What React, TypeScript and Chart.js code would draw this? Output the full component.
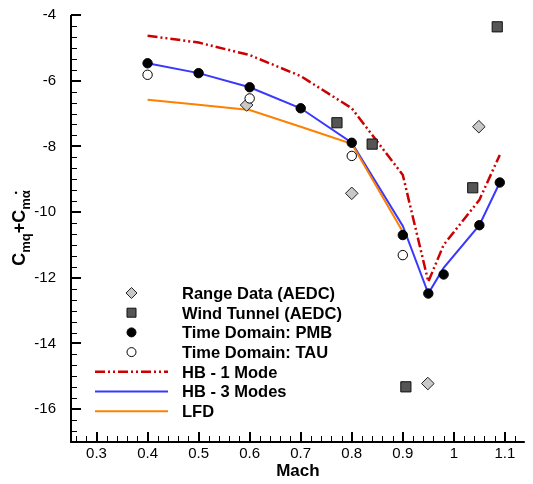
import React, { useEffect, useRef } from 'react';
import { Chart, registerables } from 'chart.js';

Chart.register(...registerables);

// ---- data ----
const rangeMach = [0.594, 0.8, 0.949, 1.049];
const rangeCm = [-6.74, -9.43, -15.22, -7.4];

const windMach = [0.771, 0.84, 0.906, 1.037, 1.085];
const windCm = [-7.28, -7.93, -15.32, -9.26, -4.36];

const pmbMach = [0.4, 0.5, 0.6, 0.7, 0.8, 0.9, 0.95, 0.98, 1.05, 1.09];
const pmbCm = [-5.47, -5.77, -6.2, -6.84, -7.89, -10.7, -12.48, -11.9, -10.4, -9.1];

const tauMach = [0.4, 0.6, 0.8, 0.9];
const tauCm = [-5.82, -6.54, -8.29, -11.31];

const hbMach = [0.4, 0.5, 0.6, 0.7, 0.8, 0.9, 0.95, 0.98, 1.05, 1.09];
const hb1Cm = [-4.63, -4.84, -5.22, -5.86, -6.84, -8.87, -12.12, -11.0, -9.63, -8.26];
const hb3Cm = [-5.47, -5.77, -6.2, -6.84, -7.89, -10.42, -12.48, -11.7, -10.4, -9.1];

const lfdMach = [0.4, 0.5, 0.6, 0.7, 0.8, 0.9];
const lfdCm = [-6.58, -6.73, -6.89, -7.4, -7.92, -10.6];

const xTickValues = [0.3, 0.4, 0.5, 0.6, 0.7, 0.8, 0.9, 1.0, 1.1];
const yTickValues = [-16, -14, -12, -10, -8, -6, -4];

const legendLabels = [
  'Range Data (AEDC)',
  'Wind Tunnel (AEDC)',
  'Time Domain: PMB',
  'Time Domain: TAU',
  'HB - 1 Mode',
  'HB - 3 Modes',
  'LFD',
];

const FONT = "'Liberation Sans', Arial, sans-serif";
const RED = '#cc0000';
const BLUE = '#3838ff';
const ORANGE = '#ff8000';
const HB1_DASH = [10, 3, 2, 3, 2, 3];

const pts = (xs: number[], ys: number[]) => xs.map((x, i) => ({ x, y: ys[i] }));

type Marker = 'diamond' | 'square' | 'dot' | 'ring';

function drawMarker(ctx: CanvasRenderingContext2D, kind: Marker, x: number, y: number, s: number) {
  ctx.save();
  ctx.lineWidth = 1;
  ctx.beginPath();
  if (kind === 'diamond') {
    ctx.moveTo(x, y - s); ctx.lineTo(x + s, y); ctx.lineTo(x, y + s); ctx.lineTo(x - s, y); ctx.closePath();
    ctx.fillStyle = '#c8c8c8'; ctx.strokeStyle = '#222';
  } else if (kind === 'square') {
    ctx.rect(x - s, y - s, 2 * s, 2 * s);
    ctx.fillStyle = '#555555'; ctx.strokeStyle = '#111';
  } else if (kind === 'dot') {
    ctx.arc(x, y, s, 0, Math.PI * 2);
    ctx.fillStyle = '#000'; ctx.strokeStyle = '#000';
  } else {
    ctx.arc(x, y, s, 0, Math.PI * 2);
    ctx.fillStyle = '#fff'; ctx.strokeStyle = '#000';
  }
  ctx.fill();
  ctx.stroke();
  ctx.restore();
}

const decorPlugin = {
  id: 'decor',
  afterDraw(chart: any) {
    const { ctx, chartArea: a } = chart;
    const xs = chart.scales.x;
    const ys = chart.scales.y;
    ctx.save();
    ctx.strokeStyle = '#000';
    // axis lines
    ctx.lineWidth = 2;
    ctx.beginPath();
    ctx.moveTo(a.left, a.top);
    ctx.lineTo(a.left, a.bottom);
    ctx.lineTo(a.right, a.bottom);
    ctx.stroke();
    // x ticks (inward)
    for (let k = 0; ; k++) {
      const v = 0.26 + 0.02 * k;
      if (v > xs.max + 1e-9) break;
      const major = xTickValues.some((t) => Math.abs(t - v) < 1e-6);
      const px = Math.round(xs.getPixelForValue(v));
      ctx.lineWidth = major ? 2 : 1;
      ctx.beginPath();
      ctx.moveTo(px + (major ? 0 : 0.5), a.bottom);
      ctx.lineTo(px + (major ? 0 : 0.5), a.bottom - (major ? 10 : 6));
      ctx.stroke();
    }
    // y ticks (inward)
    for (let k = 0; k < 40; k++) {
      const v = ys.min + k / 3;
      if (v > ys.max + 1e-9) break;
      const major = yTickValues.some((t) => Math.abs(t - v) < 1e-6);
      if (k === 0) continue;
      const py = Math.round(ys.getPixelForValue(v));
      ctx.lineWidth = major ? 2 : 1;
      ctx.beginPath();
      ctx.moveTo(a.left, py + (major ? 0 : 0.5));
      ctx.lineTo(a.left + (major ? 10 : 6), py + (major ? 0 : 0.5));
      ctx.stroke();
    }

    // legend
    const kinds: (Marker | 'line')[] = ['diamond', 'square', 'dot', 'ring', 'line', 'line', 'line'];
    const lineStyles = [
      null, null, null, null,
      { c: RED, w: 2.5, d: HB1_DASH },
      { c: BLUE, w: 2, d: [] },
      { c: ORANGE, w: 2, d: [] },
    ];
    const sizes = [5.5, 4.5, 4.5, 4.5];
    ctx.font = `bold 16.5px ${FONT}`;
    ctx.fillStyle = '#000';
    ctx.textBaseline = 'alphabetic';
    ctx.textAlign = 'left';
    legendLabels.forEach((label, i) => {
      const ry = 293 + i * 19.7;
      const k = kinds[i];
      if (k === 'line') {
        const ls = lineStyles[i]!;
        ctx.save();
        ctx.strokeStyle = ls.c;
        ctx.lineWidth = ls.w;
        ctx.setLineDash(ls.d);
        ctx.beginPath();
        ctx.moveTo(95, ry);
        ctx.lineTo(168, ry);
        ctx.stroke();
        ctx.restore();
      } else {
        drawMarker(ctx, k, 131.5, ry, sizes[i]);
      }
      ctx.fillStyle = '#000';
      ctx.fillText(label, 182, ry + 5.8);
    });

    // y axis title: C_mq + C_m(alpha-dot)
    ctx.save();
    ctx.translate(25, 228);
    ctx.rotate(-Math.PI / 2);
    ctx.fillStyle = '#000';
    const big = `bold 18px ${FONT}`;
    const small = `bold 13px ${FONT}`;
    const parts: [string, string, number][] = [
      ['C', big, 0],
      ['mq', small, 5],
      ['+C', big, 0],
      ['mα', small, 5],
    ];
    let total = 0;
    parts.forEach(([t, f]) => { ctx.font = f; total += ctx.measureText(t).width; });
    let cx = -total / 2;
    let alphaRight = 0;
    parts.forEach(([t, f, dy]) => {
      ctx.font = f;
      ctx.fillText(t, cx, dy);
      cx += ctx.measureText(t).width;
      alphaRight = cx;
    });
    ctx.beginPath();
    ctx.arc(alphaRight - 2.5, -9, 1.2, 0, Math.PI * 2);
    ctx.fill();
    ctx.restore();

    ctx.restore();
  },
};

export default function App() {
  const ref = useRef<HTMLCanvasElement>(null);
  useEffect(() => {
    if (!ref.current) return;
    Chart.defaults.font.family = FONT;
    const chart = new Chart(ref.current, {
      type: 'scatter',
      data: {
        datasets: [
          {
            label: legendLabels[0], data: pts(rangeMach, rangeCm), order: 3,
            pointStyle: 'rectRot', pointRadius: 6.3, backgroundColor: '#c8c8c8', borderColor: '#222', borderWidth: 1,
          },
          {
            label: legendLabels[1], data: pts(windMach, windCm), order: 2,
            pointStyle: 'rect', pointRadius: 7.2, backgroundColor: '#555555', borderColor: '#111', borderWidth: 1,
          },
          {
            label: legendLabels[2], data: pts(pmbMach, pmbCm), order: 1,
            pointStyle: 'circle', pointRadius: 4.7, backgroundColor: '#000', borderColor: '#000', borderWidth: 1,
          },
          {
            label: legendLabels[3], data: pts(tauMach, tauCm), order: 0,
            pointStyle: 'circle', pointRadius: 4.7, backgroundColor: '#fff', borderColor: '#000', borderWidth: 1,
          },
          {
            label: legendLabels[4], data: pts(hbMach, hb1Cm), order: 4, showLine: true,
            pointRadius: 0, borderColor: RED, borderWidth: 2.5, borderDash: HB1_DASH, tension: 0,
          },
          {
            label: legendLabels[5], data: pts(hbMach, hb3Cm), order: 6, showLine: true,
            pointRadius: 0, borderColor: BLUE, borderWidth: 2, tension: 0,
          },
          {
            label: legendLabels[6], data: pts(lfdMach, lfdCm), order: 5, showLine: true,
            pointRadius: 0, borderColor: ORANGE, borderWidth: 2, tension: 0,
          },
        ],
      },
      options: {
        animation: false,
        responsive: false,
        maintainAspectRatio: false,
        layout: { padding: { top: 15, left: 0, right: 0, bottom: 0 } },
        plugins: { legend: { display: false }, tooltip: { enabled: false }, title: { display: false } },
        scales: {
          x: {
            type: 'linear', min: 0.25, max: 1.139,
            grid: { display: false, drawTicks: false }, border: { display: false },
            ticks: {
              color: '#000', padding: 3, font: { family: FONT, size: 15 },
              callback: (v: any) => String(Number(Number(v).toFixed(2))),
            },
            afterBuildTicks: (s: any) => { s.ticks = xTickValues.map((value) => ({ value })); },
            afterFit: (s: any) => { s.height = 42; s.paddingLeft = 0; s.paddingRight = 0; },
            title: {
              display: true, text: 'Mach', color: '#000',
              font: { family: FONT, size: 17, weight: 'bold' }, padding: { top: 0, bottom: 2 },
            },
          },
          y: {
            type: 'linear', min: -17, max: -4,
            grid: { display: false, drawTicks: false }, border: { display: false },
            ticks: {
              color: '#000', padding: 15, font: { family: FONT, size: 15 },
              callback: (v: any) => String(v),
            },
            afterBuildTicks: (s: any) => { s.ticks = yTickValues.map((value) => ({ value })); },
            afterFit: (s: any) => { s.width = 71; s.paddingTop = 0; s.paddingBottom = 0; },
          },
        },
      },
      plugins: [decorPlugin],
    } as any);
    return () => chart.destroy();
  }, []);
  return (
    <div style={{ position: 'fixed', left: 0, top: 0, width: 533, height: 484, background: '#fff' }}>
      <canvas ref={ref} width={533} height={484} style={{ display: 'block', width: 533, height: 484 }} />
    </div>
  );
}
